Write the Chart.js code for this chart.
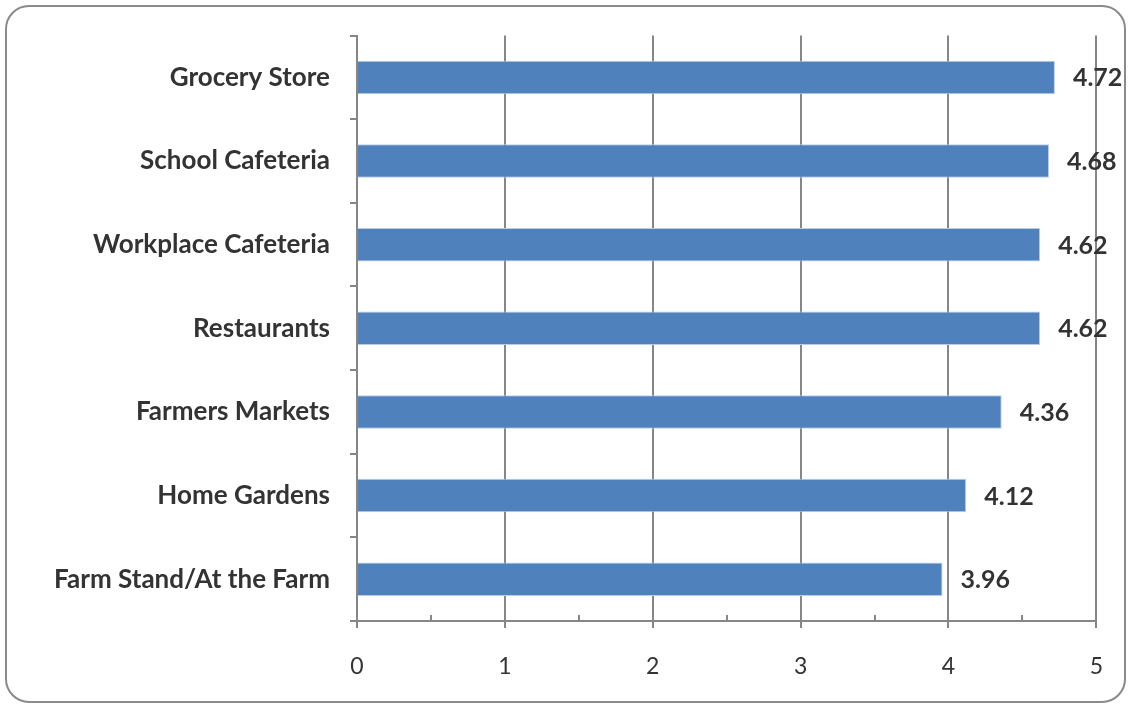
<!DOCTYPE html>
<html>
<head>
<meta charset="utf-8">
<script src="https://cdn.jsdelivr.net/npm/chart.js@4"></script>
<style>
  html,body{margin:0;padding:0;background:#fff}
  #wrap{position:absolute;left:0;top:0;width:1128px;height:707px}
  #frame{position:absolute;left:5px;top:5px;width:1117px;height:694px;border:2px solid #8a8a8a;border-radius:24px}
  canvas{position:absolute;left:0;top:0}
</style>
</head>
<body>
<div id="wrap">
  <div id="frame"></div>
  <canvas id="chart" width="1128" height="707"></canvas>
</div>
<script>
const categories=['Grocery Store','School Cafeteria','Workplace Cafeteria','Restaurants','Farmers Markets','Home Gardens','Farm Stand/At the Farm']
const values=[4.72,4.68,4.62,4.62,4.36,4.12,3.96]
const xTicks=[0,1,2,3,4,5]
const minorTicks=[0.5,1.5,2.5,3.5,4.5]

const gray='#868686'
const font="Lato, 'DejaVu Sans', sans-serif"

// value labels right of each bar
const valueLabels={
  id:'valueLabels',
  afterDatasetsDraw(chart){
    const ctx=chart.ctx
    const meta=chart.getDatasetMeta(0)
    ctx.save()
    ctx.font='bold 25px '+font
    ctx.fillStyle='#333'
    ctx.textBaseline='middle'
    meta.data.forEach((bar,i)=>{
      ctx.fillText(values[i].toFixed(2),bar.x+18,bar.y+1)
    })
    ctx.restore()
  }
}

// small minor ticks on the value axis
const minorTickMarks={
  id:'minorTickMarks',
  afterDraw(chart){
    const ctx=chart.ctx
    const x=chart.scales.x
    const bottom=chart.chartArea.bottom
    ctx.save()
    ctx.strokeStyle=gray
    ctx.lineWidth=2
    minorTicks.forEach(v=>{
      const px=Math.round(x.getPixelForValue(v))
      ctx.beginPath()
      ctx.moveTo(px,bottom)
      ctx.lineTo(px,bottom-6)
      ctx.stroke()
    })
    ctx.restore()
  }
}

new Chart(document.getElementById('chart'),{
  type:'bar',
  data:{
    labels:categories,
    datasets:[{
      data:values,
      backgroundColor:'#4F81BD',
      borderColor:'#B9CDE5',
      borderWidth:1,
      barPercentage:0.4,
      categoryPercentage:1
    }]
  },
  options:{
    indexAxis:'y',
    responsive:false,
    animation:false,
    layout:{padding:{top:31,right:25,left:0,bottom:0}},
    plugins:{legend:{display:false},tooltip:{enabled:false}},
    scales:{
      x:{
        min:0,max:5,
        afterBuildTicks(scale){scale.ticks=xTicks.map(v=>({value:v}))},
        afterFit(scale){scale.height=707-621},
        grid:{color:gray,lineWidth:2,tickLength:7,tickColor:gray},
        border:{color:gray,width:2},
        ticks:{color:'#333',font:{family:font,size:23},padding:25}
      },
      y:{
        afterFit(scale){scale.width=357},
        grid:{display:true,drawOnChartArea:false,offset:true,tickLength:7,color:gray,lineWidth:2},
        border:{color:gray,width:2},
        ticks:{color:'#333',font:{family:font,size:26,weight:'bold'},padding:20}
      }
    }
  },
  plugins:[valueLabels,minorTickMarks]
})
</script>
</body>
</html>
